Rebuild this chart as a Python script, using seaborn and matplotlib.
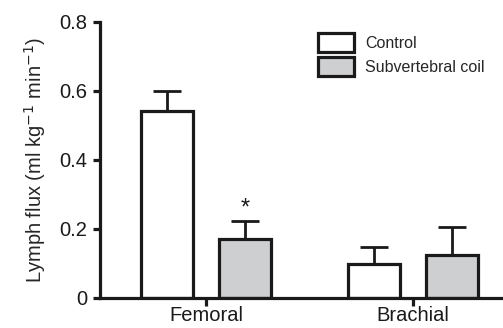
import pandas as pd
import numpy as np
import matplotlib
matplotlib.use('Agg')
import matplotlib.pyplot as plt
import seaborn as sns

# values
sites = ['Femoral', 'Brachial']
groups = ['Control', 'Subvertebral coil']
control_mean = [0.542, 0.098]
control_sem = [0.058, 0.050]
coil_mean = [0.169, 0.123]
coil_sem = [0.054, 0.083]
signif_site = ['Femoral']  # '*' over coil bar

df = pd.DataFrame({
    'site': sites + sites,
    'group': [groups[0]] * 2 + [groups[1]] * 2,
    'flux': control_mean + coil_mean,
})
sem = [control_sem, coil_sem]

sns.set_style('ticks')
plt.rcParams['font.family'] = ['Liberation Sans', 'DejaVu Sans']

fig = plt.figure(figsize=(5.03, 3.28), dpi=100)
ax = fig.add_axes([100 / 503, (328 - 297.7) / 328, 403 / 503, 276 / 328])

ink = '#1a1a1a'
sns.barplot(data=df, x='site', y='flux', hue='group', order=sites, hue_order=groups,
            palette=['white', '#cdcfd0'], edgecolor=ink, linewidth=2.3,
            width=0.76, gap=0.34, errorbar=None, ax=ax)

bar_conts = list(ax.containers)

# error bars (upper only)
for i, cont in enumerate(bar_conts):
    for j, bar in enumerate(cont):
        x = bar.get_x() + bar.get_width() / 2
        h = bar.get_height()
        ax.errorbar(x, h, yerr=[[0], [sem[i][j]]], fmt='none', ecolor=ink,
                    elinewidth=2.0, capsize=10, capthick=2.0, zorder=1)

# asterisk
for j, bar in enumerate(bar_conts[1]):
    if sites[j] in signif_site:
        ax.text(bar.get_x() + bar.get_width() / 2, coil_mean[j] + coil_sem[j] + 0.005, '*',
                ha='center', va='bottom', fontsize=17, color=ink)

ax.set_ylim(0, 0.8)
ax.set_xlim(-0.512, 1.435)
ax.set_yticks([0, 0.2, 0.4, 0.6, 0.8])
ax.set_yticklabels(['0', '0.2', '0.4', '0.6', '0.8'])
ax.set_xlabel('')
ax.set_ylabel('Lymph flux (ml kg$^{-1}$ min$^{-1}$)', fontsize=14.5, labelpad=8)

for s in ['top', 'right']:
    ax.spines[s].set_visible(False)
for s in ['left', 'bottom']:
    ax.spines[s].set_linewidth(2.3)
    ax.spines[s].set_color(ink)
ax.tick_params(axis='both', direction='out', length=5, width=2.3, colors=ink,
               labelsize=14.5, pad=4)
ax.tick_params(axis='x', pad=0, length=6)

ax.legend(loc='upper left', bbox_to_anchor=(318 / 503, 1 - 33 / 328), bbox_transform=fig.transFigure,
          frameon=False, fontsize=11.5, borderpad=0, borderaxespad=0,
          handlelength=2.25, handleheight=1.45, handletextpad=0.7, labelspacing=0.3)

fig.savefig('out.png', dpi=100)
